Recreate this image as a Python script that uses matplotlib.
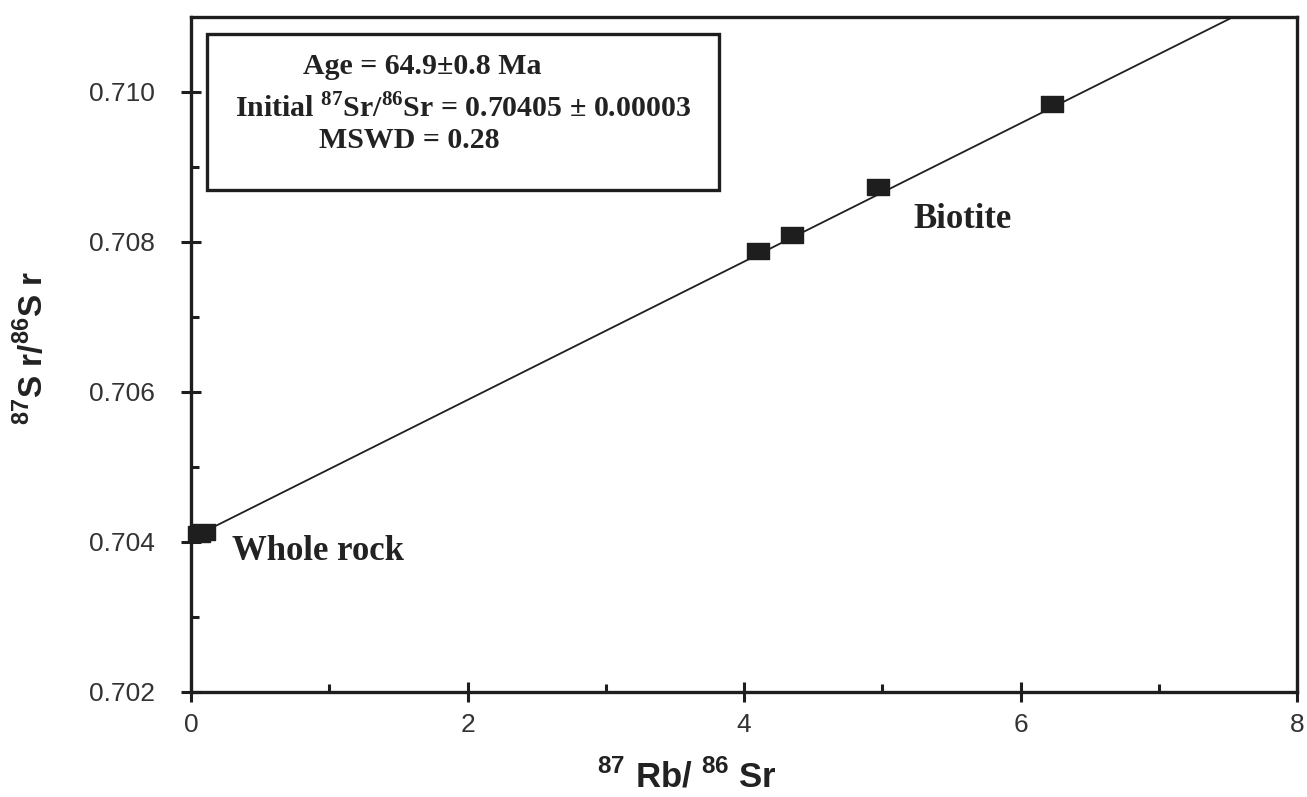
import numpy as np
import matplotlib
matplotlib.use("Agg")
import matplotlib.pyplot as plt
from matplotlib.patches import Rectangle

# ---- data ----
rb_sr_whole_rock = [0.055, 0.095]
sr_sr_whole_rock = [0.70410, 0.70413]
rb_sr_biotite = [4.10, 4.35, 4.97, 6.23]
sr_sr_biotite = [0.70788, 0.70809, 0.70873, 0.70984]
initial_ratio = 0.70405
age_ma = 64.9
decay_const = 1.42e-11
x_ticks = [0, 2, 4, 6, 8]
y_ticks = [0.702, 0.704, 0.706, 0.708, 0.710]
x_minor = [1, 3, 5, 7]
y_minor = [0.703, 0.705, 0.707, 0.709]

plt.rcParams['mathtext.fontset'] = 'custom'
plt.rcParams['mathtext.bf'] = 'Liberation Serif:bold'
plt.rcParams['mathtext.sf'] = 'Liberation Sans:bold'
plt.rcParams['mathtext.rm'] = 'Liberation Sans'

W, H = 1307, 797
fig = plt.figure(figsize=(W / 100, H / 100), dpi=100)
L, R, T, B = 191, 1297, 17, 692
ax = fig.add_axes([L / W, 1 - B / H, (R - L) / W, (B - T) / H])

ink = '#1e1e1e'
slope = np.exp(decay_const * age_ma * 1e6) - 1
xl = np.array([0, 8])
ax.plot(xl, initial_ratio + slope * xl, color=ink, lw=1.3, zorder=2)

rect_marker = [(-1, -0.75), (1, -0.75), (1, 0.75), (-1, 0.75), (-1, -0.75)]
ax.plot(rb_sr_whole_rock, sr_sr_whole_rock, linestyle='none', marker=rect_marker,
        markersize=16, color=ink, zorder=3, clip_on=False)
ax.plot(rb_sr_biotite, sr_sr_biotite, linestyle='none', marker=rect_marker,
        markersize=16, color=ink, zorder=3)

ax.set_xlim(0, 8)
ax.set_ylim(0.702, 0.711)
ax.set_xticks(x_ticks)
ax.set_xticklabels([str(v) for v in x_ticks])
ax.set_yticks(y_ticks)
ax.set_yticklabels([f"{v:.3f}" for v in y_ticks])
ax.set_xticks(x_minor, minor=True)
ax.set_yticks(y_minor, minor=True)
ax.tick_params(which='major', direction='inout', length=14, width=2.2, color=ink,
               labelsize=19, labelcolor='#333333')
ax.tick_params(axis='y', which='major', pad=19)
ax.tick_params(axis='x', which='major', pad=8)
ax.tick_params(which='minor', direction='in', length=6, width=2.2, color=ink)
for lab in ax.get_xticklabels() + ax.get_yticklabels():
    lab.set_fontfamily('Liberation Sans')
for s in ax.spines.values():
    s.set_linewidth(2.4)
    s.set_color(ink)

fig.text(32 / W, 1 - 348 / H, r'$^{\mathsf{87}}$S r/$^{\mathsf{86}}$S r', rotation=90,
         ha='center', va='center', fontsize=24, fontweight='bold',
         family='Liberation Sans', color='#222222')
fig.text(687 / W, 1 - 777 / H, r'$^{\mathsf{87}}$ Rb/ $^{\mathsf{86}}$ Sr',
         ha='center', va='center', fontsize=25, fontweight='bold',
         family='Liberation Sans', color='#222222')

def axfrac(px, py):
    return (px - L) / (R - L), (B - py) / (B - T)

bx0, by0 = axfrac(207, 190)
bx1, by1 = axfrac(719, 34)
ax.add_patch(Rectangle((bx0, by0), bx1 - bx0, by1 - by0, transform=ax.transAxes,
                       fill=False, edgecolor=ink, lw=2.4, zorder=4))

serif = dict(family='Liberation Serif', fontweight='bold', fontsize=21.5,
             color='#222222', va='center', ha='left', transform=ax.transAxes)
ax.text(*axfrac(303, 66), f'Age = {age_ma}\u00b10.8 Ma', **serif)
ax.text(*axfrac(235, 108), 'Initial $^{\\mathbf{87}}$Sr/$^{\\mathbf{86}}$Sr = 0.70405 \u00b1 0.00003', **serif)
ax.text(*axfrac(319, 141), 'MSWD = 0.28', **serif)

lab = dict(family='Liberation Serif', fontweight='bold', fontsize=25,
           color='#222222', va='center', ha='left', transform=ax.transAxes)
ax.text(*axfrac(232, 552), 'Whole rock', **lab)
ax.text(*axfrac(913, 220), 'Biotite', **lab)

fig.savefig('out.png', dpi=100, facecolor='white')
